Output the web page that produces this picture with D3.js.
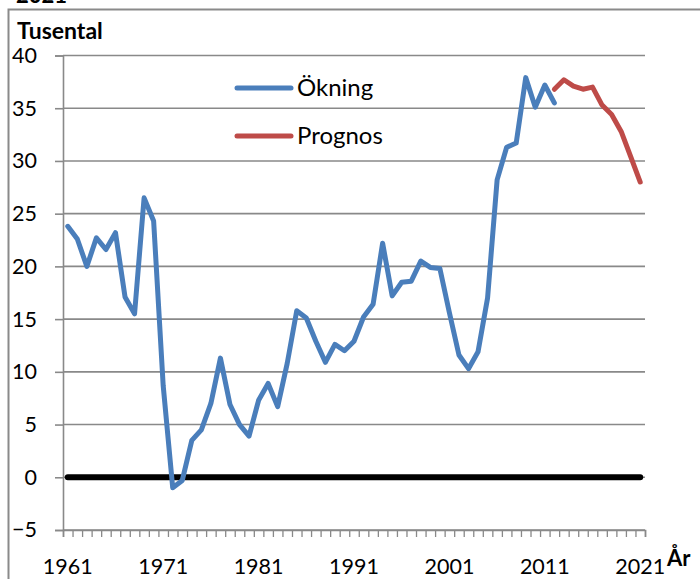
<!DOCTYPE html>
<html>
<head>
<meta charset="utf-8">
<script src="https://cdn.jsdelivr.net/npm/d3@7"></script>
<style>
  body { margin: 0; background: #fff; }
  svg { display: block; font-family: Lato, "Open Sans", sans-serif; }
</style>
</head>
<body>
<div id="vis"></div>
<script>
// data (tusental)
const years = d3.range(1961, 2022);
const okningYears = d3.range(1961, 2013);
const okning = [
  23.8, 22.6, 20.0, 22.7, 21.6, 23.2, 17.1, 15.5, 26.5, 24.3,
  8.7, -1.0, -0.3, 3.5, 4.5, 7.0, 11.3, 6.9, 5.0, 3.9,
  7.3, 8.9, 6.7, 10.8, 15.8, 15.1, 12.9, 10.9, 12.6, 12.0,
  12.9, 15.2, 16.4, 22.2, 17.2, 18.5, 18.6, 20.5, 19.9, 19.8,
  15.6, 11.6, 10.3, 11.9, 17.0, 28.2, 31.3, 31.7, 37.9, 35.1,
  37.2, 35.5
];
const prognosYears = d3.range(2012, 2022);
const prognos = [36.8, 37.7, 37.1, 36.8, 37.0, 35.3, 34.4, 32.8, 30.4, 28.0];
const yTicks = [-5, 0, 5, 10, 15, 20, 25, 30, 35, 40];
const xLabels = [1961, 1971, 1981, 1991, 2001, 2011, 2021];
const legendItems = ["Ökning", "Prognos"];

const blue = "#4a7ebb";
const red = "#be4b48";
const gridColor = "#898989";

// plot area in page pixels
const plot = { left: 63, right: 645, top: 55.5, bottom: 530 };

const svg = d3.select("#vis")
  .append("svg")
  .attr("width", 700)
  .attr("height", 579);

// outer chart frame (runs off the page on right and bottom)
svg.append("rect")
  .attr("x", 8.5)
  .attr("y", 9.5)
  .attr("width", 720)
  .attr("height", 620)
  .attr("fill", "none")
  .attr("stroke", "#8a8a8a")
  .attr("stroke-width", 2);

// cut-off title text at the very top
svg.append("text")
  .attr("x", 16)
  .attr("y", 3)
  .attr("font-size", 22)
  .attr("font-weight", "bold")
  .text("2021");

const x = d3.scaleBand()
  .domain(years)
  .range([plot.left, plot.right])
  .padding(0);

const xEdge = d3.scaleLinear()
  .domain([0, years.length])
  .range([plot.left, plot.right]);

const y = d3.scaleLinear()
  .domain([-5, 40])
  .range([plot.bottom, plot.top]);

const cx = d => x(d) + x.bandwidth() / 2;

// horizontal gridlines
svg.append("g")
  .selectAll("line")
  .data(yTicks)
  .join("line")
  .attr("x1", plot.left)
  .attr("x2", plot.right)
  .attr("y1", d => y(d))
  .attr("y2", d => y(d))
  .attr("stroke", gridColor)
  .attr("stroke-width", 1.6);

// y axis
const yAxisG = svg.append("g")
  .attr("transform", `translate(${plot.left},0)`)
  .call(d3.axisLeft(y).tickValues(yTicks).tickSize(8).tickPadding(18).tickFormat(d3.format("d")));

yAxisG.select(".domain").attr("stroke", gridColor).attr("stroke-width", 1.6);
yAxisG.selectAll(".tick line").attr("stroke", gridColor).attr("stroke-width", 1.6);
yAxisG.selectAll("text").attr("font-size", 21.5).attr("fill", "#000").attr("font-family", "Lato, sans-serif");

// x axis: little ticks between every category
const xTickG = svg.append("g")
  .attr("transform", `translate(0,${plot.bottom})`)
  .call(d3.axisBottom(xEdge).tickValues(d3.range(years.length + 1)).tickSize(7).tickFormat(""));

xTickG.select(".domain").attr("stroke", gridColor).attr("stroke-width", 1.6);
xTickG.selectAll(".tick line").attr("stroke", gridColor).attr("stroke-width", 1.3);

// x labels every tenth year, centred on category
const xLabelG = svg.append("g")
  .attr("transform", `translate(0,${plot.bottom})`)
  .call(d3.axisBottom(x).tickValues(xLabels).tickSize(0).tickPadding(29));

xLabelG.select(".domain").remove();
xLabelG.selectAll("text").attr("font-size", 21.5).attr("fill", "#000").attr("font-family", "Lato, sans-serif");

// axis titles
svg.append("text")
  .attr("x", 17)
  .attr("y", 39)
  .attr("font-size", 23)
  .attr("font-weight", "bold")
  .text("Tusental");

svg.append("text")
  .attr("x", 667)
  .attr("y", 566)
  .attr("font-size", 22)
  .attr("font-weight", "bold")
  .text("År");

// lines
const line = d3.line()
  .x(d => cx(d.year))
  .y(d => y(d.value));

const zeroData = years.map(yr => ({ year: yr, value: 0 }));
const okningData = okningYears.map((yr, i) => ({ year: yr, value: okning[i] }));
const prognosData = prognosYears.map((yr, i) => ({ year: yr, value: prognos[i] }));

svg.append("path")
  .datum(zeroData)
  .attr("d", line)
  .attr("fill", "none")
  .attr("stroke", "#000")
  .attr("stroke-width", 6)
  .attr("stroke-linecap", "round");

svg.append("path")
  .datum(okningData)
  .attr("d", line)
  .attr("fill", "none")
  .attr("stroke", blue)
  .attr("stroke-width", 5)
  .attr("stroke-linejoin", "round")
  .attr("stroke-linecap", "round");

svg.append("path")
  .datum(prognosData)
  .attr("d", line)
  .attr("fill", "none")
  .attr("stroke", red)
  .attr("stroke-width", 5)
  .attr("stroke-linejoin", "round")
  .attr("stroke-linecap", "round");

// legend
const legend = svg.append("g")
  .selectAll("g")
  .data(legendItems)
  .join("g")
  .attr("transform", (d, i) => `translate(237,${88 + i * 48})`);

legend.append("line")
  .attr("x1", 0)
  .attr("x2", 54)
  .attr("stroke", (d, i) => i === 0 ? blue : red)
  .attr("stroke-width", 5)
  .attr("stroke-linecap", "round");

legend.append("text")
  .attr("x", 60)
  .attr("dy", "0.35em")
  .attr("font-size", 24)
  .text(d => d);
</script>
</body>
</html>
